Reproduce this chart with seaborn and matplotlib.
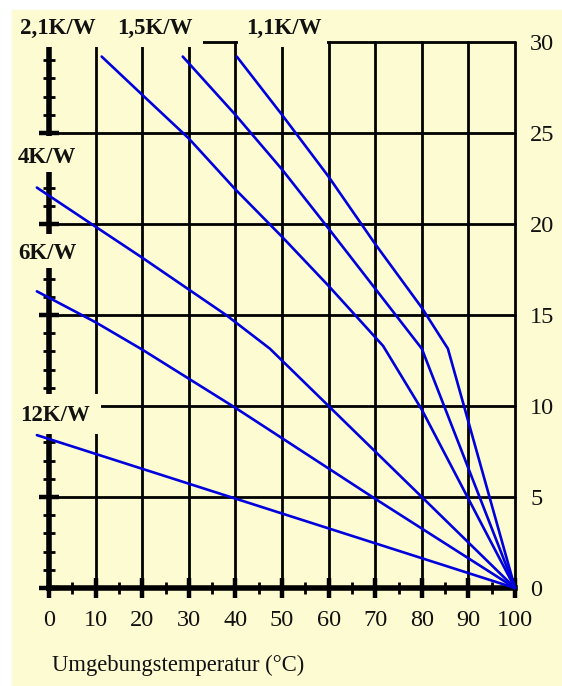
import pandas as pd
import matplotlib.pyplot as plt
import seaborn as sns
from matplotlib.patches import Rectangle
from matplotlib.ticker import MultipleLocator

# Kennlinien (Umgebungstemperatur in °C, Verlustleistung in W)
t_12 = [-2.6, 100]
p_12 = [8.4, 0]
t_6 = [-2.6, 10, 20, 40, 70, 100]
p_6 = [16.3, 14.6, 13.1, 9.9, 4.9, 0]
t_4 = [-2.6, 10, 20, 38, 47.4, 60, 80, 100]
p_4 = [22.0, 19.85, 18.15, 15.0, 13.15, 10.0, 5.0, 0]
t_21 = [11.3, 20, 30, 40, 50, 60, 71.7, 80, 90, 100]
p_21 = [29.2, 27.1, 24.7, 21.9, 19.3, 16.6, 13.3, 9.8, 4.9, 0]
t_15 = [28.7, 40, 50, 60, 70, 80, 100]
p_15 = [29.2, 26.0, 23.0, 19.75, 16.45, 13.15, 0]
t_11 = [40.3, 50, 60, 70, 80, 85.6, 100]
p_11 = [29.2, 26.0, 22.6, 18.9, 15.4, 13.15, 0]

names = ['12K/W', '6K/W', '4K/W', '2,1K/W', '1,5K/W', '1,1K/W']
x_ticks = list(range(0, 101, 10))
y_ticks = list(range(0, 31, 5))
x_label = 'Umgebungstemperatur (°C)'

bg = '#FDFBD1'
blue = '#0000DD'

# Long-Format fuer seaborn
curves = [(t_12, p_12), (t_6, p_6), (t_4, p_4), (t_21, p_21), (t_15, p_15), (t_11, p_11)]
rows = []
for name, (ts, ps) in zip(names, curves):
    for t, p in zip(ts, ps):
        rows.append({'R': name, 'T': t, 'P': p})
df = pd.DataFrame(rows)

sns.set_style('white')
plt.rcParams['font.family'] = ['Liberation Serif', 'DejaVu Serif']

fig = plt.figure(figsize=(5.62, 6.86), dpi=100, facecolor='white')
fig.add_artist(Rectangle((12 / 562, 0), 1, 676 / 686, transform=fig.transFigure,
                         color=bg, zorder=0))
ax = fig.add_axes([49 / 562, 98 / 686, 466 / 562, 546 / 686])
ax.set_facecolor('none')

sns.lineplot(data=df, x='T', y='P', hue='R', palette={n: blue for n in names},
             estimator=None, sort=False, legend=False, lw=1.9, ax=ax)
for line in ax.lines:
    line.set_clip_on(False)
    line.set_zorder(4)

ax.set_xlim(0, 100)
ax.set_ylim(0, 30)

# Gitter
for x in x_ticks[1:]:
    ax.axvline(x, color='black', lw=2.0, zorder=2, clip_on=False)
for y in y_ticks[1:]:
    ax.axhline(y, color='black', lw=2.0, zorder=2, clip_on=False)

for side in ['top', 'right']:
    ax.spines[side].set_visible(False)
for side in ['left', 'bottom']:
    ax.spines[side].set_linewidth(4)
    ax.spines[side].set_color('black')

ax.xaxis.set_major_locator(MultipleLocator(10))
ax.xaxis.set_minor_locator(MultipleLocator(5))
ax.yaxis.set_major_locator(MultipleLocator(5))
ax.yaxis.set_minor_locator(MultipleLocator(1))
ax.tick_params(which='major', direction='inout', length=14, width=3.2, color='black',
               labelsize=17.5, labelcolor='#111111')
ax.tick_params(which='minor', direction='inout', length=9, width=2, color='black')
ax.tick_params(axis='y', which='both', left=True, right=False,
               labelleft=False, labelright=True, pad=4)
ax.tick_params(axis='x', which='both', bottom=True, top=False, pad=9)
ax.set_xticks(x_ticks)
ax.set_yticks(y_ticks)
ax.set_xlabel('')
ax.set_ylabel('')

# Flaechen hinter den Beschriftungen (unterbrechen Gitter und Achse)
masks = [(-8, 29.72, 41.05, 2.03), (40.6, 29.72, 19.0, 2.03),
         (-8, 22.86, 16.3, 1.97), (-8, 17.58, 16.3, 1.87), (-8, 8.46, 19.2, 2.2)]
for mx, my, mw, mh in masks:
    ax.add_patch(Rectangle((mx, my), mw, mh, facecolor=bg, edgecolor='none',
                           zorder=3, clip_on=False))

label_pos = {'2,1K/W': (-6.3, 30.77), '1,5K/W': (14.6, 30.77), '1,1K/W': (42.3, 30.77),
             '4K/W': (-6.8, 23.63), '6K/W': (-6.5, 18.4), '12K/W': (-6.2, 9.5)}
for name, (lx, ly) in label_pos.items():
    ax.text(lx, ly, name, fontsize=16.5, fontweight='bold', color='#111111',
            ha='left', va='center', zorder=5, clip_on=False)

fig.text(52 / 562, (686 - 665) / 686, x_label, fontsize=16.3, color='#111111',
         ha='left', va='center')

fig.savefig('out.png', dpi=100)
